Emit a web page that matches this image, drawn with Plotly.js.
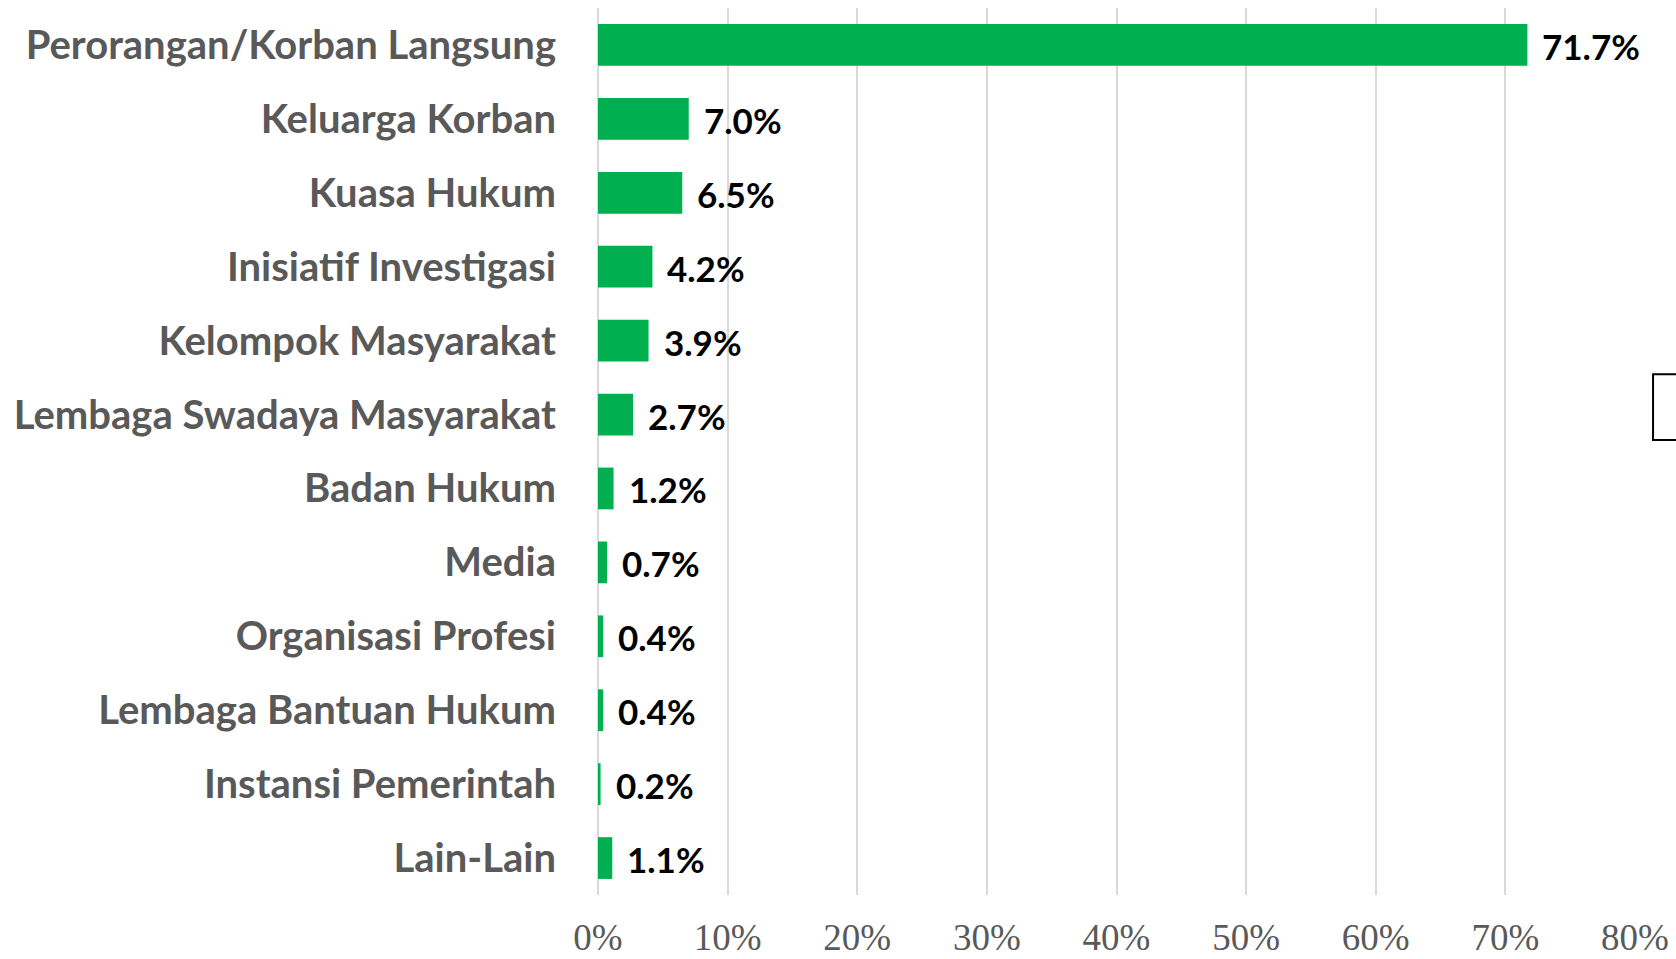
<!DOCTYPE html>
<html>
<head>
<meta charset="utf-8">
<script src="https://cdn.plot.ly/plotly-3.0.1.min.js"></script>
<style>html,body{margin:0;padding:0;background:#fff;}#chart{width:1676px;height:959px;}</style>
</head>
<body>
<div id="chart"></div>
<script>
const categories = [
  "Perorangan/Korban Langsung",
  "Keluarga Korban",
  "Kuasa Hukum",
  "Inisiatif Investigasi",
  "Kelompok Masyarakat",
  "Lembaga Swadaya Masyarakat",
  "Badan Hukum",
  "Media",
  "Organisasi Profesi",
  "Lembaga Bantuan Hukum",
  "Instansi Pemerintah",
  "Lain-Lain"
];
const values = [71.7, 7.0, 6.5, 4.2, 3.9, 2.7, 1.2, 0.7, 0.4, 0.4, 0.2, 1.1];
const tickVals = [0, 10, 20, 30, 40, 50, 60, 70, 80];
const tickLabels = ["0%", "10%", "20%", "30%", "40%", "50%", "60%", "70%", "80%"];

const trace = {
  type: "bar",
  orientation: "h",
  x: values,
  y: categories,
  width: 0.565,
  marker: {color: "#00b050"},
  hoverinfo: "none"
};

const annotations = values.map((v, i) => ({
  x: v, y: categories[i], xref: "x", yref: "y",
  text: v.toFixed(1) + "%",
  showarrow: false, xanchor: "left", yanchor: "middle",
  xshift: 13, yshift: -1,
  font: {family: "Lato", size: 35, color: "#000000", weight: 700}
}));

const layout = {
  width: 1676, height: 959,
  margin: {l: 598, r: 41, t: 8, b: 64},
  paper_bgcolor: "#ffffff", plot_bgcolor: "#ffffff",
  showlegend: false,
  xaxis: {
    range: [0, 80],
    tickvals: tickVals, ticktext: tickLabels,
    showgrid: true, gridcolor: "#d9d9d9", gridwidth: 2,
    zeroline: true, zerolinecolor: "#d9d9d9", zerolinewidth: 2,
    showline: false, ticks: "",
    ticklabelstandoff: 17,
    tickfont: {family: "Liberation Serif", size: 37, color: "#595959"},
    fixedrange: true
  },
  yaxis: {
    type: "category",
    range: [11.5, -0.5],
    showgrid: false, zeroline: false, showline: false, ticks: "",
    ticklabelstandoff: 41,
    tickfont: {family: "Lato", size: 40, color: "#595959", weight: 700},
    fixedrange: true
  },
  annotations: annotations,
  shapes: [{
    type: "rect", xref: "paper", yref: "paper",
    x0: 1.0174, x1: 1.2, y0: 0.513, y1: 0.587,
    line: {color: "#000000", width: 2}, fillcolor: "rgba(0,0,0,0)"
  }]
};

Plotly.newPlot("chart", [trace], layout, {displayModeBar: false, staticPlot: true});
</script>
</body>
</html>
